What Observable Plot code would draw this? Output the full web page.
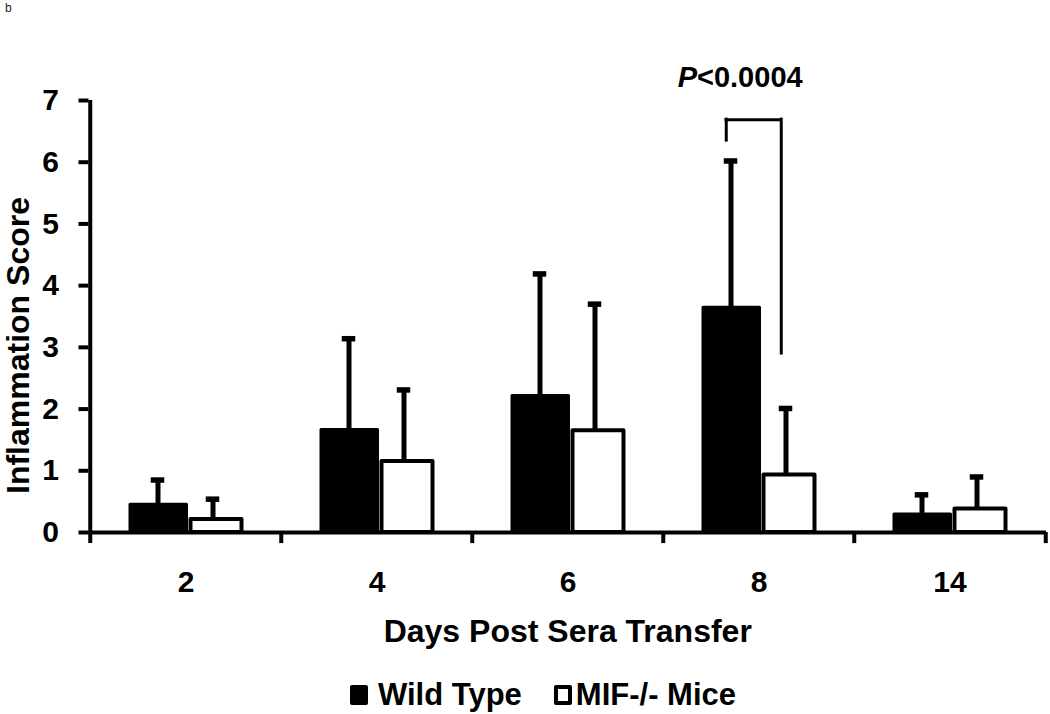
<!DOCTYPE html>
<html>
<head>
<meta charset="utf-8">
<script src="https://cdn.jsdelivr.net/npm/d3@7"></script>
<script src="https://cdn.jsdelivr.net/npm/@observablehq/plot@0.6"></script>
<style>
  body { margin: 0; background: white; font-family: "Liberation Sans", Arial, sans-serif; }
  #wrap { position: relative; width: 1050px; }
  #panel { position: absolute; left: 5px; top: 1px; font-size: 12px; line-height: 14px; color: #222; }
  #legend { display: flex; align-items: center; height: 70px; padding-left: 350px; font-weight: bold; font-size: 31px; color: black; }
  .sw { width: 18px; height: 20px; box-sizing: border-box; border-radius: 2px; }
  .sw.wt { background: black; }
  .sw.ko { background: white; border: 4px solid black; }
</style>
</head>
<body>
<div id="wrap">
  <div id="panel">b</div>
  <div id="chart"></div>
  <div id="legend">
    <div class="sw wt"></div><span style="margin-left:10px">Wild Type</span>
    <div class="sw ko" style="margin-left:32px"></div><span style="margin-left:4px">MIF-/- Mice</span>
  </div>
</div>
<script>
// ---- data ----
const days = ["2", "4", "6", "8", "14"];
const wildType = [0.45, 1.66, 2.21, 3.64, 0.29];
const wildTypeErr = [0.40, 1.48, 1.98, 2.38, 0.32];
const mifKO = [0.21, 1.15, 1.65, 0.93, 0.38];
const mifKOErr = [0.33, 1.16, 2.05, 1.08, 0.52];
const yTicks = [0, 1, 2, 3, 4, 5, 6, 7];
const pDay = "8";
const pLabelY = 7.37;
const bracketTop = 6.69;
const bracketLeftEnd = 6.35;
const bracketRightEnd = 2.90;

const wtRows = days.map((day, i) => ({day, value: wildType[i], top: wildType[i] + wildTypeErr[i]}));
const koRows = days.map((day, i) => ({day, value: mifKO[i], top: mifKO[i] + mifKOErr[i]}));

const width = 1050, marginLeft = 88.5, marginRight = 4;
const bw = (width - marginLeft - marginRight) / days.length;
const font = "'Liberation Sans', Arial, sans-serif";

const chart = Plot.plot({
  width, height: 660,
  marginLeft, marginRight, marginTop: 100, marginBottom: 128,
  style: {fontFamily: font, color: "black", background: "white", overflow: "visible"},
  x: {domain: days, padding: 0, axis: null},
  y: {domain: [0, 7], axis: null},
  marks: [
    // bars
    Plot.barY(wtRows, {x: "day", y: "value", fill: "black", stroke: "black", strokeWidth: 3, strokeLinejoin: "round", insetLeft: 40, insetRight: 94.5}),
    Plot.barY(koRows, {x: "day", y: "value", fill: "white", stroke: "black", strokeWidth: 4, strokeLinejoin: "round", insetLeft: 100.5, insetRight: 39.5}),
    // error bars
    Plot.ruleX(wtRows, {x: "day", y1: "value", y2: "top", dx: -28, strokeWidth: 5}),
    Plot.tickY(wtRows, {x: "day", y: "top", dx: -28, insetLeft: 88.75, insetRight: 88.75, strokeWidth: 5.5}),
    Plot.ruleX(koRows, {x: "day", y1: "value", y2: "top", dx: 27, strokeWidth: 5}),
    Plot.tickY(koRows, {x: "day", y: "top", dx: 27, insetLeft: 88.75, insetRight: 88.75, strokeWidth: 5.5}),
    // axes
    Plot.ruleY([0], {strokeWidth: 4}),
    Plot.ruleX(days.slice(0, 1), {x: d => d, y1: -0.18, y2: 7, dx: -bw / 2, strokeWidth: 4}),
    Plot.ruleX(days.slice(1), {x: d => d, y1: -0.18, y2: 0, dx: -bw / 2, strokeWidth: 4}),
    Plot.ruleX(days.slice(-1), {x: d => d, y1: -0.18, y2: 0, dx: bw / 2, strokeWidth: 4}),
    Plot.axisY({ticks: yTicks, tickFormat: d => String(d), tickSize: 10, tickPadding: 20, strokeWidth: 4, fontSize: 30, fontWeight: "bold", label: null}),
    Plot.axisX({tickSize: 0, tickPadding: 38, fontSize: 30, fontWeight: "bold", label: null}),
    Plot.text(["Days Post Sera Transfer"], {frameAnchor: "bottom", textAnchor: "middle", dy: 109, fontSize: 32, fontWeight: "bold"}),
    Plot.text(["Inflammation Score"], {frameAnchor: "left", textAnchor: "middle", lineAnchor: "middle", rotate: -90, dx: -70, dy: 29, fontSize: 32, fontWeight: "bold"}),
    // significance bracket
    Plot.tickY([pDay], {x: d => d, y: () => bracketTop, insetLeft: 63, insetRight: 73.5, strokeWidth: 3, strokeLinecap: "square"}),
    Plot.ruleX([pDay], {x: d => d, y1: bracketLeftEnd, y2: bracketTop, dx: -32.75, strokeWidth: 3, strokeLinecap: "square"}),
    Plot.ruleX([pDay], {x: d => d, y1: bracketRightEnd, y2: bracketTop, dx: 22.25, strokeWidth: 3, strokeLinecap: "square"}),
    Plot.text([pDay], {x: d => d, y: () => pLabelY, text: () => "P", fontStyle: "italic", fontWeight: "bold", fontSize: 29, textAnchor: "end", dx: -62}),
    Plot.text([pDay], {x: d => d, y: () => pLabelY, text: () => "<0.0004", fontWeight: "bold", fontSize: 29, textAnchor: "start", dx: -62})
  ]
});
document.getElementById("chart").appendChild(chart);
</script>
</body>
</html>
